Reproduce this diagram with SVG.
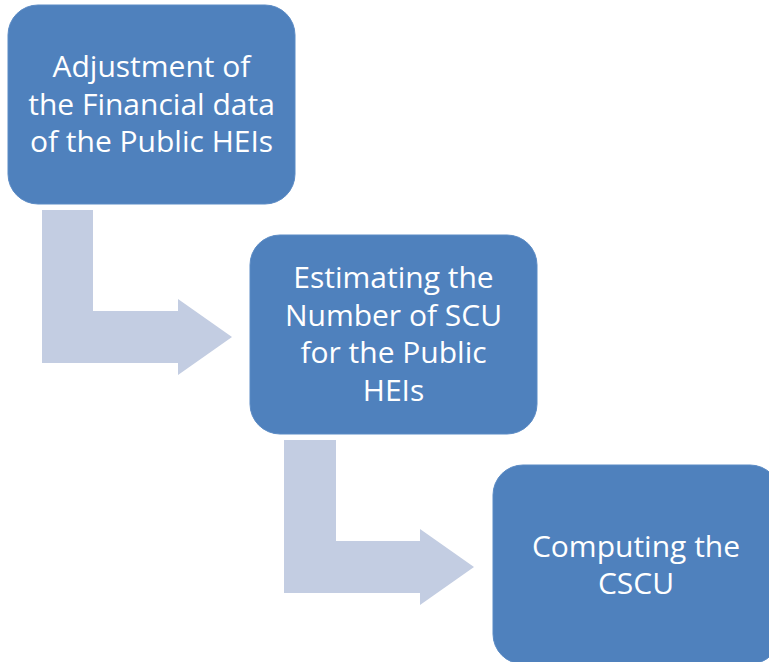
<svg xmlns="http://www.w3.org/2000/svg" width="769" height="662" viewBox="0 0 769 662">
  <style>
    .box { fill: #4F81BD; stroke: #5B8BC5; stroke-width: 1; }
    .bend { fill: #C3CDE2; }
    .label { font-family: "Open Sans", "Liberation Sans", sans-serif; font-size: 30px; fill: #FFFFFF; text-anchor: middle; }
  </style>
  <rect width="769" height="662" fill="#FFFFFF"/>

  <!-- bent arrows between the steps -->
  <g id="connectors">
    <path class="bend" d="M42,210 H93 V311 H178 V299 L232,337 L178,375 V363 H42 Z"/>
    <path class="bend" d="M284,440 H336 V541 H420 V529 L474,567 L420,605 V593 H284 Z"/>
  </g>

  <g id="step1">
    <rect class="box" x="8" y="5" width="287" height="199" rx="30" ry="30"/>
    <text class="label" x="151.5" y="77">Adjustment of</text>
    <text class="label" x="151.5" y="115">the Financial data</text>
    <text class="label" x="151.5" y="152">of the Public HEIs</text>
  </g>

  <g id="step2">
    <rect class="box" x="250" y="235" width="287" height="199" rx="30" ry="30"/>
    <text class="label" x="393.5" y="288">Estimating the</text>
    <text class="label" x="393.5" y="326">Number of SCU</text>
    <text class="label" x="393.5" y="363">for the Public</text>
    <text class="label" x="393.5" y="401">HEIs</text>
  </g>

  <g id="step3">
    <rect class="box" x="493" y="465" width="287" height="199" rx="30" ry="30"/>
    <text class="label" x="636" y="557">Computing the</text>
    <text class="label" x="636" y="594">CSCU</text>
  </g>
</svg>
